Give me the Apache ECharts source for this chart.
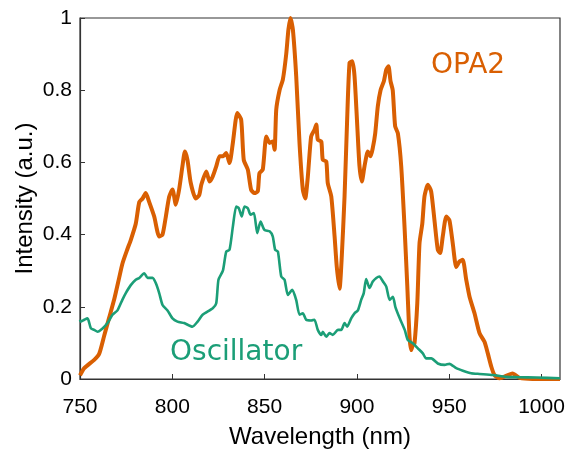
<!DOCTYPE html>
<html>
<head>
<meta charset="utf-8">
<script src="https://cdn.jsdelivr.net/npm/echarts@6/dist/echarts.min.js"></script>
<style>
  html, body { margin: 0; padding: 0; background: #fff; }
  #chart { width: 575px; height: 450px; }
</style>
</head>
<body>
<div id="chart"></div>
<script>
// OPA2 spectrum (nm, a.u.)
var opaWavelength = [750, 752.3, 757.7, 760.4, 763.1, 765.8, 768.5, 771.2, 773, 775.7, 777.5, 780.2, 782.1, 783.9, 785.6, 787.5, 790.2, 792.9, 794.7, 796.5, 798.3, 800.1, 801.9, 803.7, 805.5, 806.8, 808.2, 810, 812.7, 814.6, 815.7, 818.4, 820.2, 821.9, 823.8, 825.6, 827.4, 829.2, 831, 832.8, 835.2, 837.3, 838.7, 840.9, 842.7, 844.5, 846.3, 847.2, 849, 850.9, 852.7, 854.4, 855.4, 856.3, 858.1, 859.9, 861.7, 862.9, 864, 865.3, 867.1, 868.9, 870.7, 872, 873.4, 875.2, 877, 878, 878.8, 880.7, 881.5, 883.4, 884.2, 886.1, 887.9, 889.1, 890.6, 891.8, 893.3, 894.7, 896, 897.5, 898.7, 900.2, 901.4, 902.7, 904.1, 905.9, 907.4, 908.6, 909.9, 911.3, 912.8, 914.6, 915.9, 917.1, 918.2, 919.4, 920.7, 922.2, 924, 925.8, 927.3, 928.5, 929.4, 930.3, 931.2, 932.7, 933.9, 935.4, 936.6, 938.4, 940.2, 942, 943.8, 945.1, 946.5, 948.4, 950.1, 951.9, 953.8, 955.5, 957.3, 959.2, 961, 963.7, 966.4, 969.1, 970.9, 972.8, 974.5, 977.3, 984.3, 988.1, 995.1, 1010];
var opaIntensity = [0.01, 0.03, 0.053, 0.07, 0.12, 0.17, 0.22, 0.28, 0.32, 0.36, 0.385, 0.43, 0.49, 0.5, 0.515, 0.49, 0.45, 0.395, 0.4, 0.45, 0.505, 0.525, 0.483, 0.525, 0.59, 0.63, 0.607, 0.543, 0.5, 0.51, 0.538, 0.575, 0.547, 0.561, 0.589, 0.617, 0.617, 0.626, 0.598, 0.654, 0.737, 0.718, 0.607, 0.58, 0.524, 0.515, 0.52, 0.57, 0.58, 0.672, 0.654, 0.658, 0.635, 0.746, 0.8, 0.83, 0.9, 0.968, 1.0, 0.968, 0.84, 0.654, 0.524, 0.5, 0.56, 0.672, 0.69, 0.705, 0.663, 0.658, 0.607, 0.603, 0.543, 0.506, 0.395, 0.31, 0.25, 0.34, 0.506, 0.718, 0.876, 0.88, 0.839, 0.7, 0.589, 0.547, 0.589, 0.63, 0.617, 0.64, 0.68, 0.755, 0.8, 0.825, 0.857, 0.866, 0.825, 0.8, 0.7, 0.68, 0.589, 0.42, 0.256, 0.117, 0.08, 0.094, 0.099, 0.21, 0.376, 0.43, 0.506, 0.538, 0.52, 0.44, 0.358, 0.349, 0.395, 0.45, 0.44, 0.376, 0.31, 0.325, 0.33, 0.275, 0.228, 0.182, 0.127, 0.103, 0.071, 0.034, 0.011, 0.002, 0.015, 0.003, 0, 0];

// Oscillator spectrum (nm, a.u.)
var oscWavelength = [750, 750.4, 752.3, 754.1, 755.9, 757.7, 759.5, 762.2, 764.9, 767.6, 770.3, 773, 774.8, 777.5, 780.2, 782.1, 784.8, 786.6, 789.3, 791.1, 792.9, 794.7, 797.4, 800.1, 802.8, 806.4, 810.9, 813.7, 816.4, 821.9, 823.8, 825, 827.4, 829.2, 831, 832.8, 834.6, 836, 837.6, 839.1, 840.9, 842.4, 844.2, 846, 847.8, 849.9, 852.7, 854.4, 855.7, 857.2, 859, 860.8, 862.6, 865, 867.1, 868.9, 870.7, 872.5, 875.2, 877, 878.8, 880.7, 881.5, 883.4, 885.2, 886.9, 889.7, 891.5, 893.3, 894.7, 896.9, 898.7, 900.5, 902.3, 903.7, 905, 906.8, 908.6, 910.5, 912.2, 914.1, 915.9, 917.7, 919.5, 920.8, 923.2, 925.9, 927.6, 930.3, 933, 935.7, 937.5, 940.3, 943.8, 947.5, 950.1, 953.8, 957.4, 961.9, 966.4, 973.6, 980.9, 988.1, 997.1, 1010];
var oscIntensity = [0.164, 0.159, 0.164, 0.168, 0.14, 0.136, 0.131, 0.14, 0.155, 0.178, 0.19, 0.22, 0.238, 0.26, 0.275, 0.28, 0.293, 0.28, 0.28, 0.265, 0.238, 0.205, 0.19, 0.168, 0.159, 0.155, 0.145, 0.159, 0.178, 0.196, 0.21, 0.275, 0.3, 0.353, 0.358, 0.422, 0.478, 0.473, 0.45, 0.478, 0.473, 0.455, 0.46, 0.404, 0.436, 0.413, 0.409, 0.395, 0.358, 0.353, 0.284, 0.275, 0.233, 0.247, 0.219, 0.178, 0.182, 0.164, 0.162, 0.164, 0.136, 0.122, 0.131, 0.117, 0.127, 0.122, 0.136, 0.136, 0.155, 0.145, 0.168, 0.182, 0.19, 0.219, 0.238, 0.277, 0.252, 0.27, 0.28, 0.284, 0.27, 0.256, 0.219, 0.228, 0.2, 0.168, 0.136, 0.108, 0.099, 0.085, 0.071, 0.057, 0.057, 0.043, 0.039, 0.042, 0.03, 0.023, 0.016, 0.014, 0.011, 0.006, 0.005, 0.004, 0.002];

var xTicks = [750, 800, 850, 900, 950, 1000];

function pairs(xs, ys) {
    return xs.map(function (x, i) { return [x, ys[i]]; });
}

var chart = echarts.init(document.getElementById('chart'), null, {renderer: 'canvas'});

var option = {
    animation: false,
    backgroundColor: '#fff',
    grid: {
        left: 80,
        right: 15,
        top: 18,
        bottom: 71,
        containLabel: false,
        outerBoundsMode: 'none',
        show: true,
        borderColor: '#333',
        borderWidth: 1.2,
        backgroundColor: 'transparent'
    },
    xAxis: {
        type: 'value',
        min: 750,
        max: 1010,
        interval: 50,
        name: 'Wavelength (nm)',
        nameLocation: 'middle',
        nameGap: 46,
        nameMoveOverlap: false,
        nameTextStyle: {fontFamily: 'Liberation Sans', fontSize: 24, color: '#000'},
        axisLine: {show: true, lineStyle: {color: '#333', width: 1.2}},
        axisTick: {show: true, inside: true, length: 5, lineStyle: {color: '#333'}},
        splitLine: {show: false},
        axisLabel: {
            fontFamily: 'Liberation Sans', fontSize: 21, color: '#000', margin: 18,
            showMaxLabel: false,
            formatter: function (v) { return xTicks.indexOf(v) >= 0 ? String(v) : ''; }
        }
    },
    yAxis: {
        type: 'value',
        min: 0,
        max: 1,
        interval: 0.2,
        name: 'Intensity (a.u.)',
        nameLocation: 'middle',
        nameGap: 43,
        nameMoveOverlap: false,
        nameTextStyle: {fontFamily: 'Liberation Sans', fontSize: 24, color: '#000'},
        axisLine: {show: true, lineStyle: {color: '#333', width: 1.2}},
        axisTick: {show: true, inside: true, length: 5, lineStyle: {color: '#333'}},
        splitLine: {show: false},
        axisLabel: {fontFamily: 'Liberation Sans', fontSize: 21, color: '#000', margin: 8}
    },
    graphic: [
        {
            type: 'text', left: 431, top: 52,
            style: {text: 'OPA2', fill: '#D95F02', font: '28px "DejaVu Sans"'}
        },
        {
            type: 'text', left: 170, top: 339,
            style: {text: 'Oscillator', fill: '#1B9E77', font: '28px "DejaVu Sans"'}
        }
    ],
    series: [
        {
            name: 'OPA2',
            type: 'line',
            data: pairs(opaWavelength, opaIntensity),
            showSymbol: false,
            smooth: 0.2,
            clip: true,
            lineStyle: {color: '#D95F02', width: 4}
        },
        {
            name: 'Oscillator',
            type: 'line',
            data: pairs(oscWavelength, oscIntensity),
            showSymbol: false,
            smooth: 0.2,
            lineStyle: {color: '#1B9E77', width: 2.6}
        }
    ]
};
chart.setOption(option);
</script>
</body>
</html>
